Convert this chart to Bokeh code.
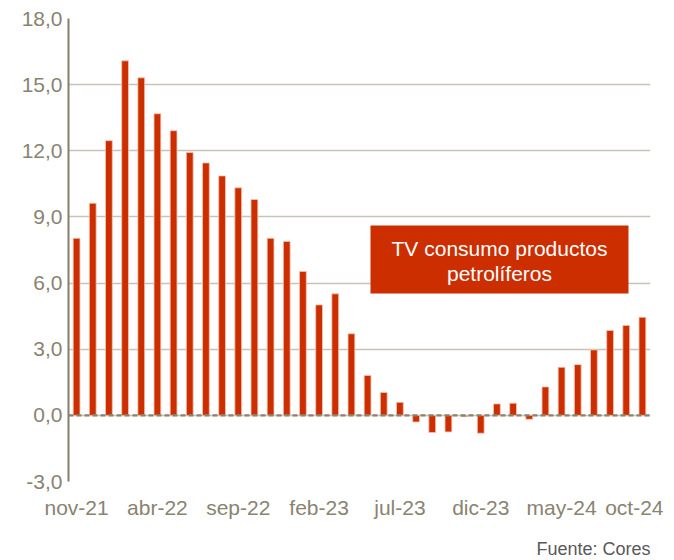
from bokeh.plotting import figure
from bokeh.models import FixedTicker, Span, Label, BoxAnnotation, Range1d, ColumnDataSource, Title
from bokeh.embed import file_html
from bokeh.resources import INLINE

months = ["nov-21", "dic-21", "ene-22", "feb-22", "mar-22", "abr-22", "may-22", "jun-22",
          "jul-22", "ago-22", "sep-22", "oct-22", "nov-22", "dic-22", "ene-23", "feb-23",
          "mar-23", "abr-23", "may-23", "jun-23", "jul-23", "ago-23", "sep-23", "oct-23",
          "nov-23", "dic-23", "ene-24", "feb-24", "mar-24", "abr-24", "may-24", "jun-24",
          "jul-24", "ago-24", "sep-24", "oct-24"]
values = [8.03, 9.62, 12.46, 16.08, 15.31, 13.68, 12.91, 11.92, 11.45, 10.86, 10.32, 9.79,
          8.03, 7.89, 6.53, 5.01, 5.51, 3.70, 1.81, 1.04, 0.59, -0.30, -0.78, -0.75,
          -0.06, -0.81, 0.52, 0.55, -0.18, 1.29, 2.18, 2.30, 2.97, 3.85, 4.08, 4.45]
y_ticks = [-3.0, 0.0, 3.0, 6.0, 9.0, 12.0, 15.0, 18.0]
x_tick_idx = [0, 5, 10, 15, 20, 25, 30, 35]
title_lines = "TV consumo productos\npetrolíferos"
source_note = "Fuente: Cores"

FONT = "Liberation Sans"
TXT = "#8a8371"

p = figure(frame_width=582, frame_height=463, output_backend="svg", toolbar_location=None,
           x_range=Range1d(-0.5, len(months) - 0.5), y_range=Range1d(-3, 18),
           min_border_left=68, min_border_right=13, min_border_top=18, min_border_bottom=0,
           background_fill_color="white", border_fill_color="white")
p.outline_line_color = None

src = ColumnDataSource(dict(x=list(range(len(months))), top=values))
p.vbar(x="x", top="top", bottom=0, width=0.42, source=src,
       fill_color="#cc2e00", line_color="#f4c4b4", line_width=0.8)

zero = Span(location=0, dimension="width", line_color="#8a8372", line_width=2.2, line_dash="5 3")
p.add_layout(zero)

p.xgrid.grid_line_color = None
p.ygrid.grid_line_color = "#c8c3b6"
p.ygrid.grid_line_width = 1.5

p.yaxis.ticker = FixedTicker(ticks=y_ticks)
p.yaxis.major_label_overrides = {t: f"{t:.1f}".replace(".", ",") for t in y_ticks}
p.yaxis.axis_line_color = "#857e6b"
p.yaxis.axis_line_width = 2
p.yaxis.major_tick_line_color = None
p.yaxis.minor_tick_line_color = None
p.yaxis.major_tick_out = 0
p.yaxis.major_tick_in = 0
p.yaxis.major_label_standoff = 6
p.yaxis.major_label_text_font = FONT
p.yaxis.major_label_text_font_size = "21px"
p.yaxis.major_label_text_color = TXT

p.xaxis.ticker = FixedTicker(ticks=x_tick_idx)
p.xaxis.major_label_overrides = {i: months[i] for i in x_tick_idx}
p.xaxis.axis_line_color = None
p.xaxis.major_tick_line_color = None
p.xaxis.minor_tick_line_color = None
p.xaxis.major_tick_out = 0
p.xaxis.major_tick_in = 0
p.xaxis.major_label_standoff = 14
p.xaxis.major_label_text_font = FONT
p.xaxis.major_label_text_font_size = "21px"
p.xaxis.major_label_text_color = TXT

note = Title(text=source_note, align="right", standoff=30,
             text_font=FONT, text_font_size="18px", text_font_style="normal",
             text_color="#595959")
p.add_layout(note, "below")

# screen units are relative to the frame (x from left, y from bottom)
box = BoxAnnotation(left=302, right=560, top=256, bottom=188,
                    left_units="screen", right_units="screen", top_units="screen", bottom_units="screen",
                    fill_color="#cc2e00", fill_alpha=1, line_color=None)
p.add_layout(box)

lines = title_lines.split("\n")
for k, t in enumerate(lines):
    p.add_layout(Label(x=431, y=233.5 - 25 * k, x_units="screen", y_units="screen",
                       text=t, text_align="center", text_baseline="middle",
                       text_font=FONT, text_font_size="21px", text_color="white"))

open("out.html", "w").write(file_html(p, INLINE))
